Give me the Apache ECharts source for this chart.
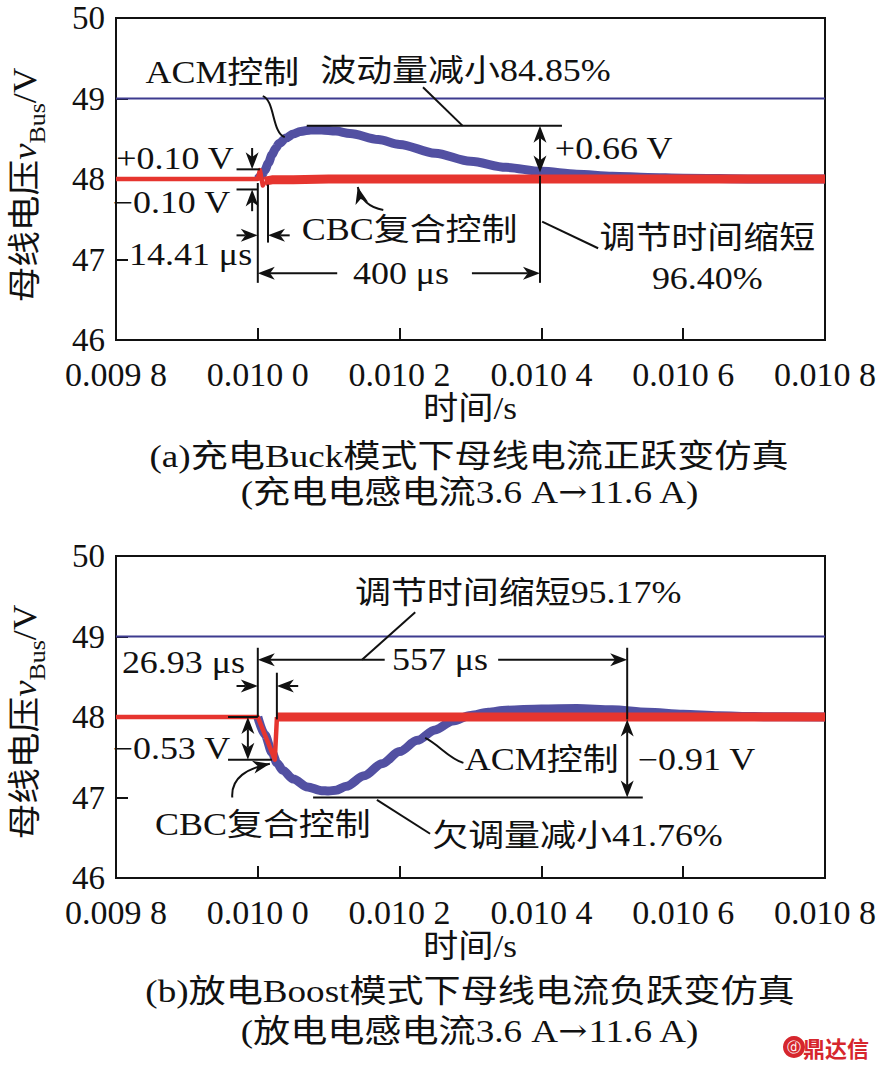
<!DOCTYPE html>
<html><head><meta charset="utf-8">
<script src="https://cdn.jsdelivr.net/npm/echarts@6/dist/echarts.min.js"></script>
<style>html,body{margin:0;padding:0;background:#fff}#c{width:880px;height:1071px}</style>
</head><body><div id="c"></div>
<script>
// ---------------- data ----------------
// time axis in microseconds (9800 us = 0.009 8 s)
const xTickLabels = ['0.009 8', '0.010 0', '0.010 2', '0.010 4', '0.010 6', '0.010 8'];
const limitTime = [9800, 10800];
const limitVolt = [49, 49];

// (a) Buck, positive step
const timeA_acm = [10000, 10005, 10010, 10015, 10020, 10025, 10030, 10040, 10050, 10060, 10075, 10090, 10110, 10130, 10170, 10200, 10250, 10300, 10350, 10400, 10450, 10500, 10550, 10600, 10700, 10800];
const voltA_acm = [48, 48.04, 48.11, 48.20, 48.30, 48.38, 48.44, 48.51, 48.56, 48.59, 48.61, 48.61, 48.595, 48.565, 48.49, 48.43, 48.32, 48.22, 48.145, 48.095, 48.06, 48.035, 48.02, 48.01, 48.00, 48.00];
const timeA_cbcPre = [9800, 10000, 10003, 10007, 10010];
const voltA_cbcPre = [48, 48, 48.11, 47.92, 47.97];
const timeA_cbcPost = [10010, 10014, 10020, 10050, 10100, 10200, 10400, 10800];
const voltA_cbcPost = [47.97, 47.98, 47.99, 47.99, 48.0, 48.0, 48.0, 48.0];

// (b) Boost, negative step
const timeB_acm = [10000, 10010, 10020, 10027, 10035, 10050, 10070, 10090, 10100, 10110, 10125, 10150, 10175, 10200, 10225, 10250, 10275, 10300, 10325, 10350, 10400, 10450, 10500, 10550, 10600, 10650, 10700, 10800];
const voltB_acm = [48, 47.78, 47.56, 47.43, 47.34, 47.23, 47.13, 47.085, 47.08, 47.09, 47.14, 47.27, 47.42, 47.57, 47.71, 47.84, 47.95, 48.02, 48.06, 48.085, 48.10, 48.105, 48.09, 48.06, 48.035, 48.015, 48.005, 48.00];
const timeB_cbcPre = [9800, 10000, 10024, 10027];
const voltB_cbcPre = [48, 48, 47.47, 48.0];
const timeB_cbcPost = [10027, 10100, 10300, 10800];
const voltB_cbcPost = [48, 48, 48, 48];

// ---------------- chart ----------------
const FONT = "'Liberation Serif','Noto Sans CJK SC',serif";
const INK = '#111';
const BLUE = '#5250a2';
const RED = '#e6352f';
const LIMIT = '#3d3b8f';
const zip = (t, v) => t.map((x, i) => [x, v[i]]);

const chart = echarts.init(document.getElementById('c'), null, { renderer: 'svg' });

const grids = [
  { left: 116, top: 18, width: 709, height: 322 },
  { left: 116, top: 556, width: 709, height: 322 }
].map(g => Object.assign(g, { show: true, borderColor: INK, borderWidth: 2, backgroundColor: 'transparent' }));

const xAxes = [0, 1].map(i => ({
  type: 'value', gridIndex: i, min: 9800, max: 10800, interval: 200,
  axisLine: { show: true, lineStyle: { color: INK, width: 2 } },
  axisTick: { show: true, inside: true, length: 12, lineStyle: { color: INK, width: 2 } },
  axisLabel: { fontSize: 34, lineHeight: 26, fontFamily: FONT, color: INK, margin: 21,
    formatter: v => xTickLabels[Math.round((v - 9800) / 200)] },
  splitLine: { show: false }
}));
const yAxes = [0, 1].map(i => ({
  type: 'value', gridIndex: i, min: 46, max: 50, interval: 1,
  axisLine: { show: true, lineStyle: { color: INK, width: 2 } },
  axisTick: { show: true, inside: true, length: 12, lineStyle: { color: INK, width: 2 } },
  axisLabel: { fontSize: 33, lineHeight: 26, fontFamily: FONT, color: INK, margin: 11 },
  splitLine: { show: false }
}));

function ln(i, data, color, width, smooth) {
  return { type: 'line', xAxisIndex: i, yAxisIndex: i, data, symbol: 'none', showSymbol: false,
    smooth: smooth ? 0.3 : false, smoothMonotone: 'x', silent: true,
    lineStyle: { color, width, cap: 'butt', join: 'round' } };
}

chart.setOption({
  animation: false,
  grid: grids,
  xAxis: xAxes,
  yAxis: yAxes,
  series: [
    ln(0, zip(limitTime, limitVolt), LIMIT, 2),
    ln(0, zip(timeA_acm, voltA_acm), BLUE, 9, true),
    ln(0, zip(timeA_cbcPre, voltA_cbcPre), RED, 4.5),
    ln(0, zip(timeA_cbcPost, voltA_cbcPost), RED, 9),
    ln(1, zip(limitTime, limitVolt), LIMIT, 2),
    ln(1, zip(timeB_acm, voltB_acm), BLUE, 9, true),
    ln(1, zip(timeB_cbcPre, voltB_cbcPre), RED, 4.5),
    ln(1, zip(timeB_cbcPost, voltB_cbcPost), RED, 9)
  ]
});

// ---------------- annotations ----------------
const G = [];
const P = (gi, t, v) => chart.convertToPixel({ gridIndex: gi }, [t, v]);
function line(a, b, w) {
  G.push({ type: 'line', z: 100, shape: { x1: a[0], y1: a[1], x2: b[0], y2: b[1] }, style: { stroke: INK, lineWidth: w || 2 } });
}
function head(tip, from) {
  const dx = tip[0] - from[0], dy = tip[1] - from[1];
  const L = Math.hypot(dx, dy) || 1;
  const ux = dx / L, uy = dy / L, nx = -uy, ny = ux;
  const len = 17, w = 6.5;
  const bx = tip[0] - ux * len, by = tip[1] - uy * len;
  const kx = tip[0] - ux * len * 0.72, ky = tip[1] - uy * len * 0.72;
  G.push({ type: 'polygon', z: 101, shape: { points: [tip, [bx + nx * w, by + ny * w], [kx, ky], [bx - nx * w, by - ny * w]] }, style: { fill: INK } });
  return [kx, ky];
}
function arrow(from, tip) { const k = head(tip, from); line(from, k); }
function dbl(a, b) { const k1 = head(a, b); const k2 = head(b, a); line(k1, k2); }
function curve(p0, c1, c2, p3, withHead) {
  G.push({ type: 'bezierCurve', z: 100, shape: { x1: p0[0], y1: p0[1], cpx1: c1[0], cpy1: c1[1], cpx2: c2[0], cpy2: c2[1], x2: p3[0], y2: p3[1] }, style: { stroke: INK, lineWidth: 2, fill: null } });
  if (withHead) head(p3, c2);
}
function txt(p, s, align, size, sx) {
  G.push({ type: 'text', z: 102, x: p[0], y: p[1], scaleX: sx || 1.16,
    style: { text: s, fontSize: size || 31, fontFamily: FONT, fill: INK, align: align || 'left', verticalAlign: 'middle' } });
}
function arrowCaption(p, before, after) {
  G.push({ type: 'text', z: 102, x: p[0], y: p[1], scaleX: 1.16,
    style: { text: '{t|' + before + '}{r|→}{t|' + after + '}', align: 'center', verticalAlign: 'middle', fill: INK,
      rich: { t: { fontSize: 32, fontFamily: FONT, fill: INK }, r: { fontSize: 30, fontFamily: "'DejaVu Serif'", fill: INK } } } });
}

// ---- panel (a) ----
{
  const A = (t, v) => P(0, t, v);
  txt(A(9950, 49.32), 'ACM控制', 'center');
  curve(A(10007, 49.03), A(10024, 48.98), A(10020, 48.57), A(10038, 48.52), false);
  txt(A(10088, 49.35), '波动量减小84.85%', 'left');
  line(A(10233, 49.14), A(10289, 48.66));
  line(A(10069, 48.66), A(10429, 48.66));
  dbl(A(10398, 48.66), A(10398, 48.08));
  txt(A(10419, 48.385), '+0.66 V', 'left');
  line(A(10398, 48.04), A(10398, 46.71));
  line(A(10401, 47.47), A(10480, 47.14));
  txt(A(10634, 47.27), '调节时间缩短', 'center');
  txt(A(10634, 46.77), '96.40%', 'center');
  txt(A(10202, 46.83), '400 μs', 'center');
  arrow(A(10112, 46.83), A(10000, 46.83));
  arrow(A(10302, 46.83), A(10398, 46.83));
  line(A(10000, 47.95), A(10000, 46.71));
  line(A(10014.4, 47.93), A(10014.4, 47.21));
  arrow(A(9970, 47.30), A(10000, 47.30));
  arrow(A(10045, 47.30), A(10014.4, 47.30));
  txt(A(10062, 47.37), 'CBC复合控制', 'left');
  txt(A(9992, 47.06), '14.41 μs', 'right');
  curve(A(10177, 47.615), A(10160, 47.64), A(10146, 47.72), A(10141, 47.90), true);
  txt(A(9966, 48.26), '+0.10 V', 'right');
  arrow(A(9992, 48.385), A(9992, 48.12));
  line(A(9970, 48.12), A(10003, 48.12));
  txt(A(9961, 47.71), '−0.10 V', 'right');
  arrow(A(9992, 47.60), A(9992, 47.87));
  line(A(9970, 47.87), A(10000, 47.87));
}

// ---- panel (b) ----
{
  const B = (t, v) => P(1, t, v);
  txt(B(10137, 49.55), '调节时间缩短95.17%', 'left');
  line(B(10222, 49.30), B(10147, 48.71));
  arrow(B(10179, 48.71), B(10000, 48.71));
  txt(B(10257, 48.71), '557 μs', 'center');
  arrow(B(10339, 48.71), B(10521, 48.71));
  line(B(10521, 48.86), B(10521, 47.97));
  dbl(B(10521, 47.97), B(10521, 47.0));
  line(B(10078, 47.0), B(10543, 47.0));
  txt(B(10536, 47.47), '−0.91 V', 'left');
  txt(B(10292, 47.47), 'ACM控制', 'left');
  curve(B(10236, 47.74), B(10255, 47.66), B(10270, 47.48), B(10290, 47.43), false);
  txt(B(9982, 48.68), '26.93 μs', 'right');
  line(B(10000, 48.86), B(10000, 48.0));
  line(B(10026.9, 48.55), B(10026.9, 47.97));
  arrow(B(9970, 48.385), B(10000, 48.385));
  arrow(B(10057, 48.385), B(10026.9, 48.385));
  txt(B(9961, 47.615), '−0.53 V', 'right');
  line(B(9958, 48.0), B(10000, 48.0));
  line(B(9958, 47.47), B(10020, 47.47));
  dbl(B(9986, 48.0), B(9986, 47.47));
  txt(B(9855, 46.66), 'CBC复合控制', 'left');
  curve(B(9964, 47.0), B(9962, 47.25), B(9985, 47.36), B(10017, 47.42), true);
  txt(B(10246, 46.53), '欠调量减小41.76%', 'left');
  line(B(10168, 46.97), B(10243, 46.55));
}

// ---- axis names and captions ----
function yName(cx, cy) {
  G.push({ type: 'text', z: 102, x: cx, y: cy, rotation: Math.PI / 2, scaleX: 1.08,
    style: { text: '{a|母线电压}{v|v}{s|Bus}{a|/V}', align: 'center', verticalAlign: 'middle', fill: INK,
      rich: {
        a: { fontSize: 33, fontFamily: FONT, lineHeight: 50, fill: INK },
        v: { fontSize: 34, fontFamily: "'Liberation Serif'", fontStyle: 'italic', lineHeight: 50, fill: INK },
        s: { fontSize: 24, fontFamily: "'Liberation Serif'", lineHeight: 26, verticalAlign: 'bottom', fill: INK }
      } } });
}
yName(24, 185);
yName(24, 722);
txt([470, 408], '时间/s', 'center', 32, 1.1);
txt([469, 456], '(a)充电Buck模式下母线电流正跃变仿真', 'center', 32, 1.16);
arrowCaption([470, 492], '(充电电感电流3.6 A', '11.6 A)');
txt([470, 946], '时间/s', 'center', 32, 1.1);
txt([470, 991], '(b)放电Boost模式下母线电流负跃变仿真', 'center', 32, 1.16);
arrowCaption([470, 1031], '(放电电感电流3.6 A', '11.6 A)');
// watermark
G.push({ type: 'circle', z: 102, shape: { cx: 794, cy: 1047, r: 11 }, style: { fill: '#d6262d' } });
G.push({ type: 'text', z: 103, x: 794, y: 1047, style: { text: 'ⓓ', fontSize: 14, fill: '#fff', align: 'center', verticalAlign: 'middle', fontFamily: "'DejaVu Sans'" } });
G.push({ type: 'text', z: 102, x: 836, y: 1047, style: { text: '鼎达信', fontSize: 22, fontWeight: 'bold', fontFamily: "'Noto Sans CJK SC'", fill: '#d6262d', align: 'center', verticalAlign: 'middle' } });

chart.setOption({ graphic: G });
</script>
</body></html>
